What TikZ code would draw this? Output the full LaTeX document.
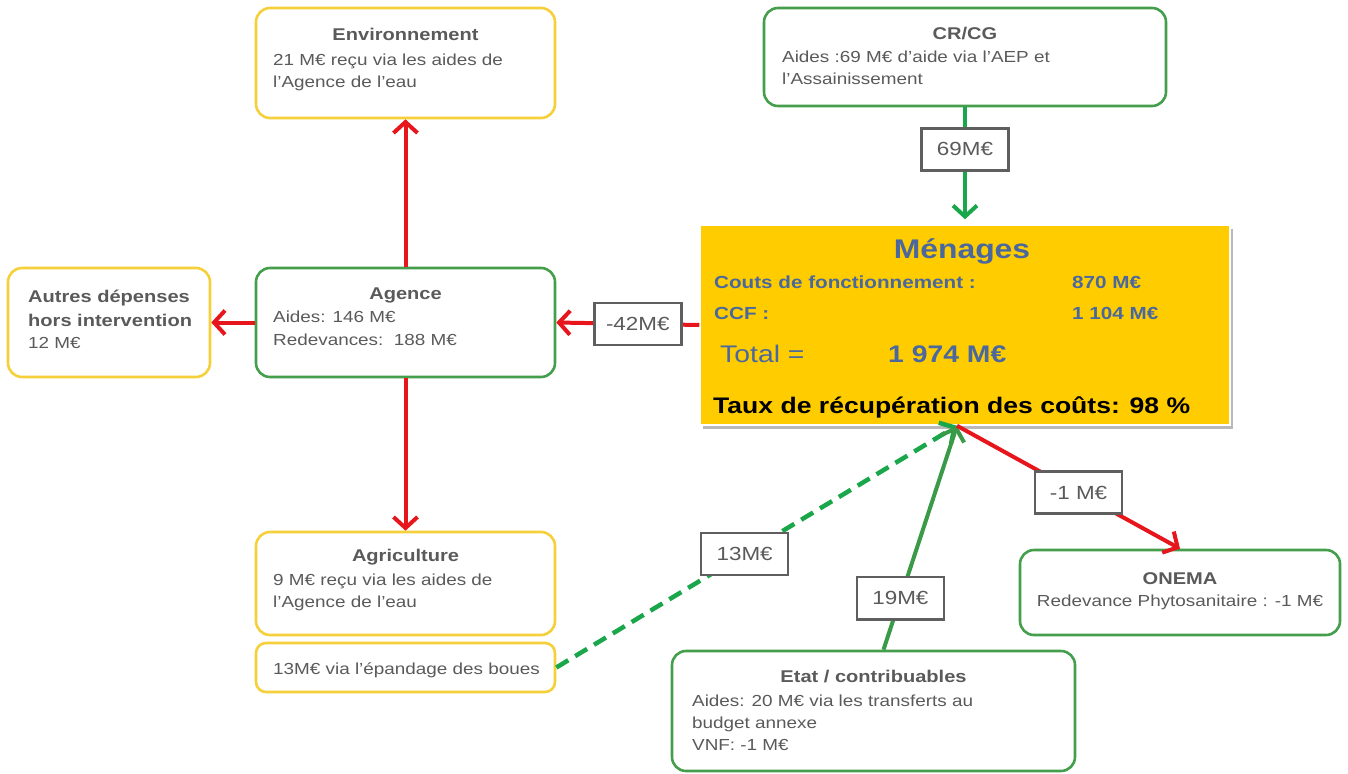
\documentclass[tikz,border=0pt]{standalone}
\usepackage{fontspec}
\setmainfont{Liberation Sans}[FakeStretch=1.18]
\usetikzlibrary{arrows.meta,shadows,calc}

\definecolor{boxyellow}{RGB}{246,208,58}
\definecolor{boxgreen}{RGB}{68,158,76}
\definecolor{flowred}{RGB}{230,22,28}
\definecolor{flowgreen}{RGB}{26,166,74}
\definecolor{flowgreendk}{RGB}{58,154,72}
\definecolor{menfill}{RGB}{255,204,0}
\definecolor{menblue}{RGB}{74,104,158}
\definecolor{txtgray}{RGB}{90,90,90}
\definecolor{lblgray}{RGB}{95,95,95}

\begin{document}
\begin{tikzpicture}[x=1pt,y=-1pt,
  ybox/.style={draw=boxyellow, line width=2.6pt, rounded corners=14pt, fill=white, inner sep=0pt},
  gbox/.style={draw=boxgreen, line width=2.6pt, rounded corners=14pt, fill=white, inner sep=0pt},
  title/.style={font=\bfseries\fontsize{17}{20}\selectfont, text=txtgray, inner sep=0pt, anchor=base},
  titlel/.style={title, anchor=base west},
  body/.style={font=\fontsize{16}{20}\selectfont, text=txtgray, inner sep=0pt, anchor=base west},
  bodyc/.style={body, anchor=base},
  lbl/.style={draw=lblgray, solid, line width=2.6pt, fill=white, minimum width=87pt, minimum height=42pt,
    inner sep=0pt, font=\fontsize{19}{19}\selectfont, text=txtgray},
  tip/.style={-{Straight Barb[length=11pt,width=24pt]}},
  redflow/.style={draw=flowred, line width=4pt, tip},
  greenflow/.style={draw=flowgreen, line width=4pt, tip},
  greenflowdk/.style={draw=flowgreendk, line width=4pt, tip},
  greendash/.style={draw=flowgreen, line width=4.5pt, dash pattern=on 14pt off 8pt, tip},
  menbold/.style={font=\bfseries\fontsize{17.5}{20}\selectfont, text=menblue, inner sep=0pt, anchor=base west},
]
\useasboundingbox (0,0) rectangle (1348,773);

% ---- boxes ----
\node[ybox, minimum width=299pt, minimum height=110pt] (env) at (405.5,63) {};
\node[title] (env-t) at (405.5,41) {Environnement};
\node[body] (env-1) at (273,66) {21 M€ reçu via les aides de};
\node[body] (env-2) at (273,88) {l'Agence de l'eau};

\node[gbox, minimum width=402pt, minimum height=98pt] (cr) at (965,57) {};
\node[title] (cr-t) at (965,40) {CR/CG};
\node[body] (cr-1) at (782,63) {Aides :69 M€ d'aide via l'AEP et};
\node[body] (cr-2) at (782,85) {l'Assainissement};

\node[gbox, minimum width=299pt, minimum height=109pt] (ag) at (405.5,322.5) {};
\node[title] (ag-t) at (405.5,299) {Agence};
\node[body] (ag-1) at (273,322) {Aides: 146 M€};
\node[body] (ag-2) at (273,345) {Redevances:\ \ 188 M€};

\node[ybox, minimum width=202pt, minimum height=109pt] (autres) at (109,322.5) {};
\node[titlel] (autres-t1) at (28,302) {Autres dépenses};
\node[titlel] (autres-t2) at (28,326) {hors intervention};
\node[body] (autres-1) at (28,348) {12 M€};

\node[ybox, minimum width=299pt, minimum height=103pt] (agri) at (405.5,583.5) {};
\node[title] (agri-t) at (405.5,561) {Agriculture};
\node[body] (agri-1) at (273,585) {9 M€ reçu via les aides de};
\node[body] (agri-2) at (273,607) {l'Agence de l'eau};

\node[ybox, minimum width=299pt, minimum height=49pt, rounded corners=10pt] (epand) at (405.5,667.5) {};
\node[body] (epand-1) at (273,674) {13M€ via l'épandage des boues};

\node[gbox, minimum width=403pt, minimum height=120pt] (etat) at (873.5,711) {};
\node[title] (etat-t) at (873.5,682) {Etat / contribuables};
\node[body] (etat-1) at (692,706) {Aides: 20 M€ via les transferts au};
\node[body] (etat-2) at (692,728) {budget annexe};
\node[body] (etat-3) at (692,750) {VNF: -1 M€};

\node[gbox, minimum width=320pt, minimum height=85pt] (onema) at (1180,592.5) {};
\node[title] (onema-t) at (1180,584) {ONEMA};
\node[bodyc] (onema-1) at (1180,606) {Redevance Phytosanitaire : -1 M€};

% ---- central household box ----
\node[fill=menfill, draw=white, line width=1.5pt, minimum width=530pt, minimum height=200pt, inner sep=0pt,
  drop shadow={shadow xshift=2.5pt, shadow yshift=-4pt, fill=black!50, opacity=0.55}] (men) at (965,325) {};
\node[font=\bfseries\fontsize{27}{30}\selectfont, text=menblue, inner sep=0pt, anchor=base] (men-t) at (962,258) {Ménages};
\node[menbold] (men-c1) at (714,288) {Couts de fonctionnement :};
\node[menbold] (men-v1) at (1072,288) {870 M€};
\node[menbold] (men-c2) at (714,319) {CCF :};
\node[menbold] (men-v2) at (1072,319) {1 104 M€};
\node[font=\fontsize{24}{26}\selectfont, text=menblue, inner sep=0pt, anchor=base west] (men-tot) at (720,362) {Total =};
\node[font=\bfseries\fontsize{24}{26}\selectfont, text=menblue, inner sep=0pt, anchor=base west] (men-totv) at (888,362) {1 974 M€};
\node[font=\bfseries\fontsize{22.5}{24}\selectfont, text=black, inner sep=0pt, anchor=base west] (men-taux) at (713,413) {Taux de récupération des coûts: 98 \%};

% ---- connection points ----
\coordinate (men-in) at ($(men.south)+(-8,0)$);
\coordinate (etat-out) at ($(etat.north)+(10,0)$);

% ---- flows ----
\draw[redflow] (ag.north) -- (env.south);
\draw[redflow] (ag.west) -- (autres.east);
\draw[redflow] (ag.south) -- (agri.north);
\draw[redflow] (men.west) -- node[lbl, pos=0.43] (l42) {-42M€} (ag.east);
\draw[greenflow, shorten >=5pt] (cr.south) -- node[lbl, pos=0.36] (l69) {69M€} (men.north);
\draw[greendash] (epand.east) -- node[lbl, pos=0.47] (l13) {13M€} (men-in);
\draw[greenflowdk] (etat-out) -- node[lbl, pos=0.23] (l19) {19M€} (men-in);
\draw[redflow] (men-in) -- node[lbl, pos=0.545] (l1) {-1 M€} (onema.north);
\end{tikzpicture}
\end{document}
